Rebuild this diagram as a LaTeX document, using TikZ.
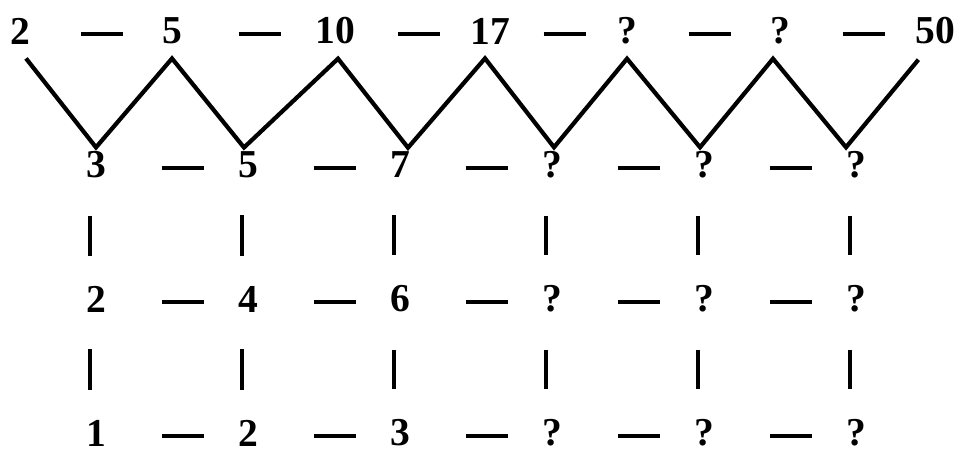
\documentclass[tikz,border=0pt]{standalone}
\usepackage{fontspec}
\setmainfont{Liberation Serif}
\usetikzlibrary{positioning, calc}

\begin{document}
\begin{tikzpicture}[
    x=0.2mm, y=-0.2mm,
    font=\fontsize{22.5}{27}\selectfont\bfseries,
    node distance=26.8mm and 30.4mm, on grid,
    num/.style={inner sep=0pt, minimum width=5mm},
    zig/.style={line width=2.4pt, line join=miter},
    hlink/.style={line width=2pt},
    vlink/.style={line width=1.9pt, shorten <=7.4mm, shorten >=6mm}
  ]
  \useasboundingbox (0,0) rectangle (966,454);

  % top row
  \node[num] (t1) at (20,31)  {2};
  \node[num] (t2) at (172,31) {5};
  \node[num] (t3) at (335,31) {10};
  \node[num] (t4) at (490,31) {17};
  \node[num] (t5) at (627,31) {?};
  \node[num] (t6) at (780,31) {?};
  \node[num] (t7) at (935,31) {50};

  % grid below
  \node[num]               (a1) at (96,165) {3};
  \node[num, right=of a1]  (a2) {5};
  \node[num, right=of a2]  (a3) {7};
  \node[num, right=of a3]  (a4) {?};
  \node[num, right=of a4]  (a5) {?};
  \node[num, right=of a5]  (a6) {?};
  \node[num, below=of a1]  (b1) {2};
  \node[num, right=of b1]  (b2) {4};
  \node[num, right=of b2]  (b3) {6};
  \node[num, right=of b3]  (b4) {?};
  \node[num, right=of b4]  (b5) {?};
  \node[num, right=of b5]  (b6) {?};
  \node[num, below=of b1]  (c1) {1};
  \node[num, right=of c1]  (c2) {2};
  \node[num, right=of c2]  (c3) {3};
  \node[num, right=of c3]  (c4) {?};
  \node[num, right=of c4]  (c5) {?};
  \node[num, right=of c5]  (c6) {?};

  % zigzag
  \draw[zig] ([shift={(1.2mm,-2.8mm)}]t1.south)
    -- ([yshift=0.8mm]a1.north) -- ([yshift=-2.8mm]t2.south)
    -- ([shift={(-0.8mm,0.8mm)}]a2.north) -- ([shift={(0.6mm,-2.8mm)}]t3.south)
    -- ([shift={(1.6mm,0.8mm)}]a3.north) -- ([shift={(-1mm,-2.8mm)}]t4.south)
    -- ([shift={(0.4mm,0.8mm)}]a4.north) -- ([yshift=-2.8mm]t5.south)
    -- ([shift={(-0.8mm,0.8mm)}]a5.north) -- ([shift={(-1.4mm,-2.8mm)}]t6.south)
    -- ([shift={(-2mm,0.8mm)}]a6.north) -- ([shift={(0.7mm,-3mm)}]t7.south west);

  % dashes
  \foreach \l/\r in {t1/t2, t2/t3, t3/t4, t4/t5, t5/t6, t6/t7}
    \draw[hlink] ($(\l)!.5!(\r)+(-15,3)$) -- +(42,0);
  \foreach \row in {a, b, c}
    \foreach \i/\j in {1/2, 2/3, 3/4, 4/5, 5/6}
      \draw[hlink] ($(\row\i)!.5!(\row\j)+(-10,3)$) -- +(42,0);

  % bars
  \foreach \i in {1,...,6} {
    \draw[vlink] ([xshift=-1.2mm]a\i.south) -- ([xshift=-1.2mm]b\i.north);
    \draw[vlink] ([xshift=-1.2mm]b\i.south) -- ([xshift=-1.2mm]c\i.north);
  }
\end{tikzpicture}
\end{document}
